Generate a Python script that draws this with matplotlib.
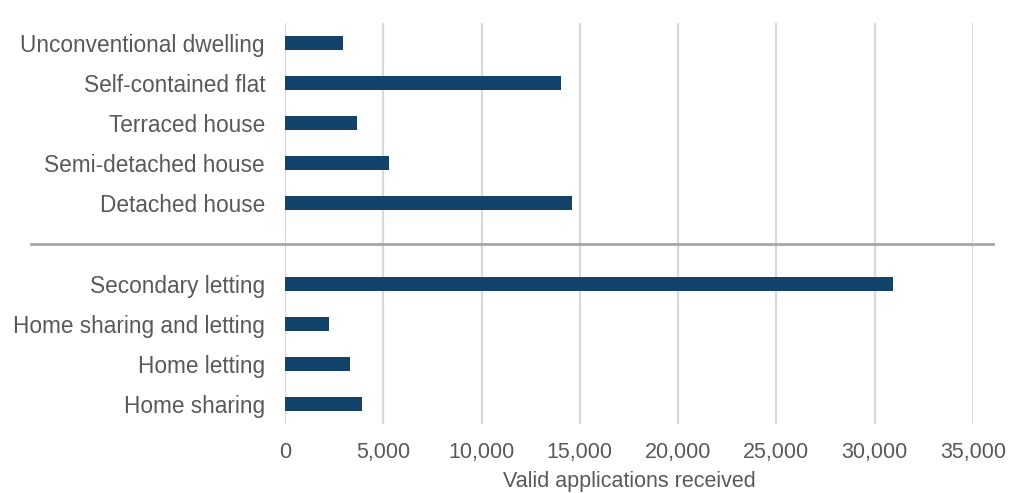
import matplotlib.pyplot as plt
from matplotlib.ticker import FuncFormatter

# Data (top to bottom)
categories_dwelling = ['Unconventional dwelling', 'Self-contained flat', 'Terraced house',
                       'Semi-detached house', 'Detached house']
values_dwelling = [2950, 14050, 3650, 5300, 14600]

categories_letting = ['Secondary letting', 'Home sharing and letting', 'Home letting', 'Home sharing']
values_letting = [30950, 2250, 3300, 3900]

text_xlabel = 'Valid applications received'
xticks = [0, 5000, 10000, 15000, 20000, 25000, 30000, 35000]

# Style
color_bar = '#13426B'
color_grid = '#D9D9D9'
color_sep = '#A6A6A6'
color_text = '#595959'
fontsize_cat = 16.3
fontsize_tick = 15.5
fontsize_label = 15.5

plt.rcParams['font.family'] = ['Liberation Sans', 'DejaVu Sans']

fig = plt.figure(figsize=(10.31, 4.93), dpi=100)
ax = fig.add_axes([285 / 1031, 69 / 493, (973 - 285) / 1031, (424 - 23) / 493])

# positions: one empty slot between the two groups
n1 = len(categories_dwelling)
pos_dwelling = list(range(n1))
pos_letting = [n1 + 1 + i for i in range(len(categories_letting))]

ax.barh(pos_dwelling, values_dwelling, height=0.35, color=color_bar, zorder=3)
ax.barh(pos_letting, values_letting, height=0.35, color=color_bar, zorder=3)

ax.set_yticks(pos_dwelling + pos_letting)
ax.set_yticklabels(categories_dwelling + categories_letting, fontsize=fontsize_cat, color=color_text)
ax.set_ylim(len(pos_dwelling) + len(pos_letting) + 0.5, -0.5)

ax.set_xlim(0, 35000)
ax.set_xticks(xticks)
ax.xaxis.set_major_formatter(FuncFormatter(lambda v, p: f'{int(v):,}'))
ax.tick_params(axis='x', labelsize=fontsize_tick, labelcolor=color_text, length=0, pad=13)
ax.tick_params(axis='y', length=0, pad=14.4)
ax.set_xlabel(text_xlabel, fontsize=fontsize_label, color=color_text, labelpad=5.5)

ax.grid(axis='x', color=color_grid, linewidth=1.6, zorder=0)
ax.set_axisbelow(True)
for s in ax.spines.values():
    s.set_visible(False)

# separator line between the groups
sep_y = n1
x0 = (31 - 285) / (973 - 285)
x1 = (993 - 285) / (973 - 285)
ax.plot([x0, x1], [sep_y, sep_y], transform=ax.get_yaxis_transform(),
        color=color_sep, linewidth=2, clip_on=False, zorder=4)

fig.savefig('out.png', dpi=100)
